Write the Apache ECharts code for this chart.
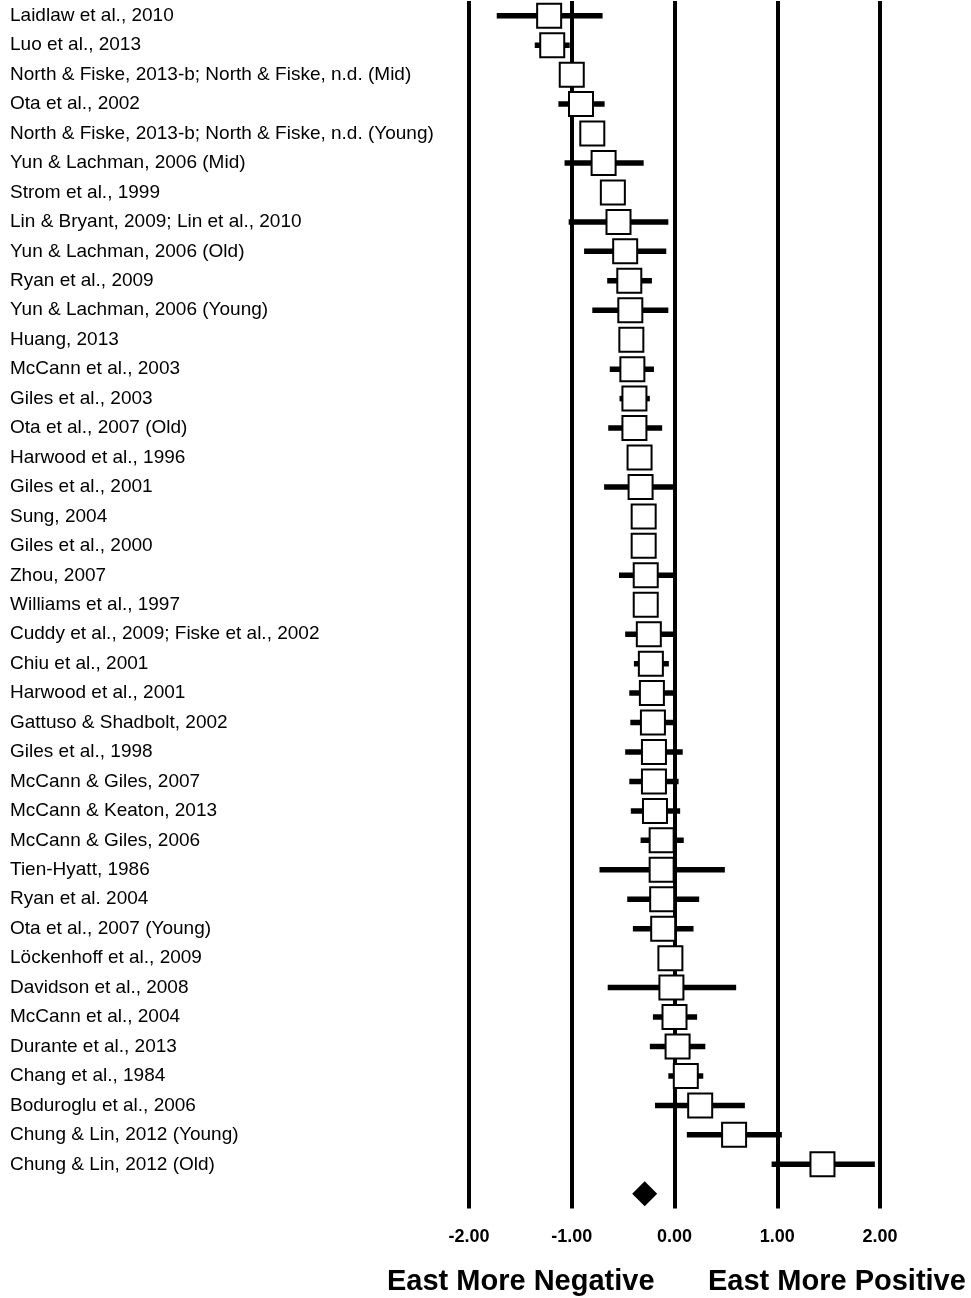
<!DOCTYPE html>
<html>
<head>
<meta charset="utf-8">
<script src="https://cdn.jsdelivr.net/npm/echarts@6/dist/echarts.min.js"></script>
<style>
  html, body { margin: 0; padding: 0; background: #fff; }
  #chart { width: 971px; height: 1298px; }
</style>
</head>
<body>
<div id="chart"></div>
<script>
// study labels, top to bottom
const studies = [
  'Laidlaw et al., 2010',
  'Luo et al., 2013',
  'North & Fiske, 2013-b; North & Fiske, n.d. (Mid)',
  'Ota et al., 2002',
  'North & Fiske, 2013-b; North & Fiske, n.d. (Young)',
  'Yun & Lachman, 2006 (Mid)',
  'Strom et al., 1999',
  'Lin & Bryant, 2009; Lin et al., 2010',
  'Yun & Lachman, 2006 (Old)',
  'Ryan et al., 2009',
  'Yun & Lachman, 2006 (Young)',
  'Huang, 2013',
  'McCann et al., 2003',
  'Giles et al., 2003',
  'Ota et al., 2007 (Old)',
  'Harwood et al., 1996',
  'Giles et al., 2001',
  'Sung, 2004',
  'Giles et al., 2000',
  'Zhou, 2007',
  'Williams et al., 1997',
  'Cuddy et al., 2009; Fiske et al., 2002',
  'Chiu et al., 2001',
  'Harwood et al., 2001',
  'Gattuso & Shadbolt, 2002',
  'Giles et al., 1998',
  'McCann & Giles, 2007',
  'McCann & Keaton, 2013',
  'McCann & Giles, 2006',
  'Tien-Hyatt, 1986',
  'Ryan et al. 2004',
  'Ota et al., 2007 (Young)',
  'Löckenhoff et al., 2009',
  'Davidson et al., 2008',
  'McCann et al., 2004',
  'Durante et al., 2013',
  'Chang et al., 1984',
  'Boduroglu et al., 2006',
  'Chung & Lin, 2012 (Young)',
  'Chung & Lin, 2012 (Old)'
]

// effect sizes and 95% CI
const effects = [-1.22, -1.19, -1.00, -0.91, -0.80, -0.69, -0.60, -0.545, -0.48, -0.44,
  -0.43, -0.42, -0.41, -0.39, -0.39, -0.34, -0.33, -0.30, -0.30, -0.28,
  -0.28, -0.25, -0.23, -0.22, -0.21, -0.20, -0.20, -0.19, -0.125, -0.125,
  -0.12, -0.11, -0.04, -0.03, 0.00, 0.03, 0.11, 0.25, 0.58, 1.44]
const ciLow = [-1.73, -1.36, -1.08, -1.13, -0.87, -1.07, -0.66, -1.03, -0.88, -0.655,
  -0.80, -0.48, -0.63, -0.535, -0.645, -0.40, -0.685, -0.36, -0.36, -0.54,
  -0.34, -0.48, -0.395, -0.44, -0.43, -0.48, -0.44, -0.425, -0.33, -0.73,
  -0.46, -0.405, -0.10, -0.65, -0.21, -0.24, -0.06, -0.19, 0.12, 0.945]
const ciHigh = [-0.70, -1.02, -0.92, -0.68, -0.73, -0.30, -0.54, -0.06, -0.08, -0.22,
  -0.06, -0.36, -0.20, -0.24, -0.12, -0.28, -0.01, -0.24, -0.24, -0.01,
  -0.22, -0.01, -0.055, -0.01, -0.01, 0.08, 0.04, 0.055, 0.09, 0.49,
  0.24, 0.185, 0.02, 0.60, 0.22, 0.30, 0.28, 0.685, 1.045, 1.95]

// pooled effect
const summaryEffect = -0.29

const xTicks = [-2, -1, 0, 1, 2]

const FONT = "'Liberation Sans', Arial, sans-serif"

const chart = echarts.init(document.getElementById('chart'))

const categories = studies.concat([''])

const ciData = studies.map((s, i) => [ciLow[i], ciHigh[i], i])
const pointData = studies.map((s, i) => [effects[i], i])

const option = {
  animation: false,
  backgroundColor: '#fff',
  grid: {
    left: 469,
    width: 411,
    top: 1,
    height: 1207.5,
    containLabel: false
  },
  xAxis: {
    type: 'value',
    min: xTicks[0],
    max: xTicks[xTicks.length - 1],
    interval: 1,
    axisLine: { show: false },
    axisTick: { show: false },
    splitLine: { show: true, lineStyle: { color: '#000', width: 4 } },
    axisLabel: {
      margin: 20,
      fontFamily: FONT,
      fontSize: 18,
      fontWeight: 'bold',
      color: '#000',
      formatter: v => v.toFixed(2)
    }
  },
  yAxis: {
    type: 'category',
    data: categories,
    inverse: true,
    axisLine: { show: false },
    axisTick: { show: false },
    splitLine: { show: false },
    axisLabel: {
      interval: 0,
      align: 'left',
      margin: 459,
      padding: [7, 0, 0, 0],
      fontFamily: FONT,
      fontSize: 19,
      color: '#000'
    }
  },
  graphic: [
    {
      type: 'text',
      left: 387,
      top: 1267,
      style: {
        text: 'East More Negative',
        font: 'bold 29px ' + FONT,
        fill: '#000'
      }
    },
    {
      type: 'text',
      left: 708,
      top: 1267,
      style: {
        text: 'East More Positive',
        font: 'bold 29px ' + FONT,
        fill: '#000'
      }
    }
  ],
  series: [
    {
      type: 'custom',
      z: 2,
      data: ciData,
      encode: { x: [0, 1], y: 2 },
      renderItem: (params, api) => {
        const a = api.coord([api.value(0), api.value(2)])
        const b = api.coord([api.value(1), api.value(2)])
        return {
          type: 'line',
          shape: { x1: a[0], y1: a[1], x2: b[0], y2: b[1] },
          style: { stroke: '#000', lineWidth: 5.5 }
        }
      }
    },
    {
      type: 'scatter',
      z: 3,
      data: pointData,
      symbol: 'rect',
      symbolSize: 24,
      itemStyle: { color: '#fff', borderColor: '#000', borderWidth: 2, opacity: 1 },
      emphasis: { disabled: true }
    },
    {
      type: 'scatter',
      z: 3,
      data: [[summaryEffect, studies.length]],
      symbol: 'diamond',
      symbolSize: [25, 25],
      itemStyle: { color: '#000', opacity: 1 },
      emphasis: { disabled: true }
    }
  ]
}

chart.setOption(option)
</script>
</body>
</html>
